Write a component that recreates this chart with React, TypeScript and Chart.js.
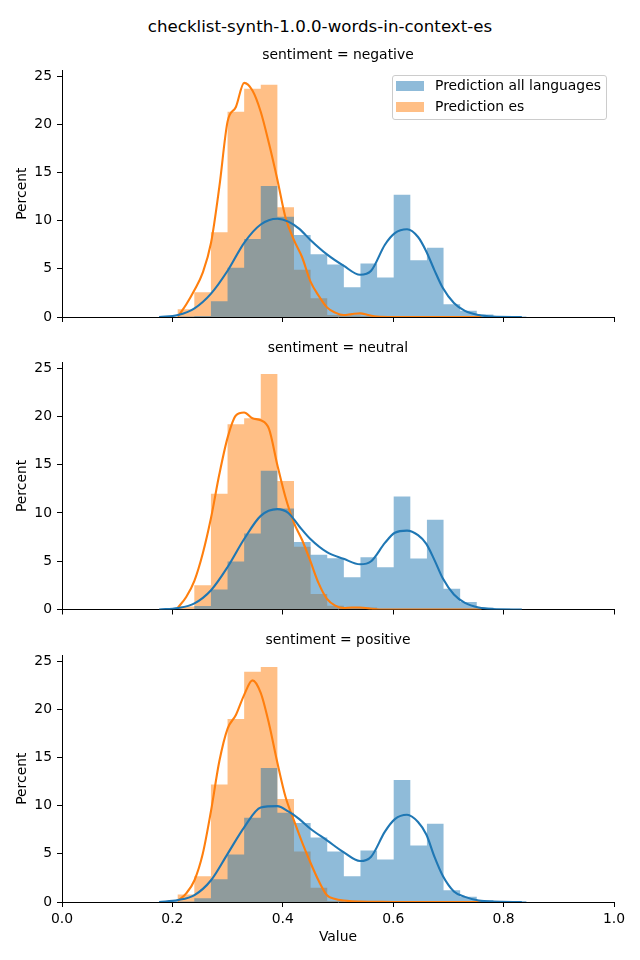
import React, { useEffect, useRef } from "react";
import { Chart, registerables } from "chart.js";

Chart.register(...registerables);

const FONT = "DejaVu Sans";

// Histogram bin edges (shared bins)
const BIN_EDGES = [
  0.1795, 0.2096, 0.2397, 0.2698, 0.2999, 0.33, 0.3601, 0.3902, 0.4203, 0.4504, 0.4805, 0.5106,
  0.5407, 0.5708, 0.6009, 0.631, 0.6611, 0.6912, 0.7213, 0.7514, 0.7815, 0.8116, 0.8417,
];

const SERIES_NAMES = ["Prediction all languages", "Prediction es"];
const PANEL_TITLES = ["sentiment = negative", "sentiment = neutral", "sentiment = positive"];

// Percent per bin — "Prediction all languages"
const ALL_NEGATIVE = [0.02, 0.05, 0.1, 1.64, 5.1, 8.1, 13.6, 10.4, 8.5, 6.5, 5.44, 3.08, 5.54, 4.1, 12.7, 5.88, 7.18, 1.33, 0.65, 0.27, 0.1, 0.05];
const ALL_NEUTRAL = [0.02, 0.05, 0.35, 2.07, 4.98, 7.86, 14.37, 10.46, 7.0, 5.67, 5.3, 3.34, 5.4, 4.37, 11.7, 5.29, 9.3, 2.14, 0.77, 0.2, 0.08, 0.03];
const ALL_POSITIVE = [0.1, 0.05, 0.4, 2.37, 4.94, 8.74, 13.9, 9.26, 8.2, 6.69, 5.25, 2.67, 5.35, 4.42, 12.65, 5.86, 8.13, 1.23, 0.55, 0.2, 0.1, 0.1];

// Percent per bin — "Prediction es"
const ES_NEGATIVE = [0, 0.8, 2.56, 8.8, 21.3, 23.7, 24.1, 11.4, 4.9, 1.95, 0.2, 0.15, 0.1, 0, 0, 0, 0, 0, 0, 0, 0, 0];
const ES_NEUTRAL = [0, 0.3, 2.5, 12.0, 19.2, 19.8, 24.4, 13.3, 6.5, 1.6, 0.4, 0.25, 0.2, 0, 0, 0, 0, 0, 0, 0, 0, 0];
const ES_POSITIVE = [0, 0.79, 2.67, 12.2, 19.0, 23.9, 24.4, 10.7, 5.25, 1.47, 0.1, 0.05, 0, 0, 0, 0, 0, 0, 0, 0, 0, 0];

// Density curves
const KDE_ALL_X = [0.176, 0.21, 0.24, 0.27, 0.3, 0.33, 0.36, 0.39, 0.41, 0.43, 0.45, 0.48, 0.51, 0.54, 0.56, 0.585, 0.603, 0.625, 0.645, 0.66, 0.675, 0.69, 0.71, 0.73, 0.755, 0.78, 0.833];
const KDE_ALL_NEGATIVE = [0, 0.2, 0.9, 2.43, 4.8, 7.7, 9.6, 10.2, 9.9, 9.15, 8.0, 6.5, 5.33, 4.38, 4.8, 7.5, 8.7, 9.1, 8.3, 6.8, 4.82, 3.0, 1.45, 0.63, 0.2, 0.05, 0];
const KDE_ALL_NEUTRAL = [0, 0.15, 0.64, 2.0, 4.4, 7.3, 9.7, 10.4, 10.0, 8.6, 7.3, 5.94, 5.26, 4.68, 5.0, 6.9, 7.95, 8.17, 7.7, 6.8, 5.09, 3.2, 1.55, 0.68, 0.2, 0.05, 0];
const KDE_ALL_POSITIVE = [0, 0.2, 0.72, 2.26, 5.0, 7.75, 9.8, 9.95, 9.4, 8.6, 7.6, 6.4, 5.17, 4.25, 4.7, 7.3, 8.6, 9.05, 8.3, 7.0, 4.66, 2.7, 1.1, 0.53, 0.15, 0.04, 0];

const KDE_ES_X = [0.21, 0.225, 0.24, 0.255, 0.27, 0.285, 0.3, 0.315, 0.33, 0.345, 0.36, 0.375, 0.39, 0.405, 0.42, 0.435, 0.45, 0.465, 0.48, 0.495, 0.51, 0.525, 0.54, 0.555, 0.57, 0.6, 0.65, 0.7, 0.76];
const KDE_ES_NEGATIVE = [0.05, 1.3, 2.8, 4.6, 7.7, 13.5, 20.3, 21.8, 24.3, 23.5, 21.3, 18.0, 14.3, 10.3, 8.0, 6.2, 3.7, 2.2, 1.0, 0.45, 0.2, 0.3, 0.38, 0.2, 0.05, 0, 0, 0, 0];
const KDE_ES_NEUTRAL = [0.2, 1.3, 3.0, 5.8, 9.5, 14.0, 17.8, 20.1, 20.4, 19.8, 19.6, 18.7, 15.0, 11.6, 9.0, 7.2, 5.0, 2.7, 1.1, 0.4, 0.15, 0.2, 0.2, 0.12, 0.03, 0, 0, 0, 0];
const KDE_ES_POSITIVE = [0.1, 0.9, 2.26, 5.0, 9.47, 14.6, 18.0, 19.4, 21.5, 23.0, 21.7, 18.5, 14.5, 10.9, 8.5, 6.2, 4.1, 2.2, 0.7, 0.3, 0.15, 0.08, 0.05, 0.03, 0.02, 0, 0, 0, 0];

const X_TICKS = [0, 0.2, 0.4, 0.6, 0.8, 1.0];
const Y_TICKS = [0, 5, 10, 15, 20, 25];
const Y_MAX = 25.6;

const BLUE = "#1f77b4";
const ORANGE = "#ff7f0e";
const BLUE_FILL = "rgba(31,119,180,0.5)";
const ORANGE_FILL = "rgba(255,127,14,0.5)";

// histogram as a stepped outline: each bin value held from its left edge to its right edge
function histPoints(values: number[]) {
  return BIN_EDGES.map((x, i) => ({ x, y: values[Math.min(i, values.length - 1)] }));
}

type PanelProps = {
  top: number;
  height: number;
  chartTop: number;
  chartBottom: number;
  allVals: number[];
  esVals: number[];
  allKde: number[];
  esKde: number[];
  showX: boolean;
};

function Panel(p: PanelProps) {
  const ref = useRef<HTMLCanvasElement>(null);
  useEffect(() => {
    const canvas = ref.current;
    if (!canvas) return;
    const padTop = p.chartTop - p.top;
    const xAxisH = p.top + p.height - p.chartBottom;
    const tickFont = { family: FONT, size: 13.9 };
    const chart = new Chart(canvas, {
      type: "line",
      data: {
        datasets: [
          {
            label: SERIES_NAMES[0] + " kde",
            data: KDE_ALL_X.map((x, i) => ({ x, y: p.allKde[i] })),
            borderColor: BLUE,
            borderWidth: 2.1,
            pointRadius: 0,
            cubicInterpolationMode: "monotone",
            fill: false,
            clip: 0,
          } as any,
          {
            label: SERIES_NAMES[1] + " kde",
            data: KDE_ES_X.map((x, i) => ({ x, y: p.esKde[i] })),
            borderColor: ORANGE,
            borderWidth: 2.1,
            pointRadius: 0,
            cubicInterpolationMode: "monotone",
            fill: false,
            clip: 0,
          } as any,
          {
            label: SERIES_NAMES[0],
            data: histPoints(p.allVals),
            stepped: "before",
            borderWidth: 0,
            borderColor: "rgba(0,0,0,0)",
            backgroundColor: BLUE_FILL,
            pointRadius: 0,
            fill: "origin",
            clip: 0,
          } as any,
          {
            label: SERIES_NAMES[1],
            data: histPoints(p.esVals),
            stepped: "before",
            borderWidth: 0,
            borderColor: "rgba(0,0,0,0)",
            backgroundColor: ORANGE_FILL,
            pointRadius: 0,
            fill: "origin",
            clip: 0,
          } as any,
        ],
      },
      options: {
        responsive: false,
        animation: false,
        devicePixelRatio: 1,
        layout: { padding: { top: padTop, right: 26, bottom: 0, left: 0 } },
        plugins: {
          legend: { display: false },
          tooltip: { enabled: false },
          title: { display: false },
          filler: { propagate: false },
        },
        scales: {
          x: {
            type: "linear",
            min: 0,
            max: 1,
            offset: false,
            grid: {
              offset: false,
              display: true,
              drawOnChartArea: false,
              drawTicks: true,
              tickLength: 5,
              color: "#000",
              lineWidth: 1,
            },
            border: { display: true, color: "#000", width: 1 },
            ticks: {
              padding: 4,
              color: "#000",
              font: tickFont,
              maxRotation: 0,
              autoSkip: false,
              callback: (v: any) => (p.showX ? Number(v).toFixed(1) : ""),
            },
            afterBuildTicks: (s: any) => {
              s.ticks = X_TICKS.map((value) => ({ value }));
            },
            afterFit: (s: any) => {
              s.height = xAxisH;
            },
            title: {
              display: p.showX,
              text: "Value",
              color: "#000",
              font: tickFont,
              padding: { top: 0, bottom: 14 },
            },
          } as any,
          y: {
            type: "linear",
            min: 0,
            max: Y_MAX,
            grid: {
              display: true,
              drawOnChartArea: false,
              drawTicks: true,
              tickLength: 5,
              color: "#000",
              lineWidth: 1,
            },
            border: { display: true, color: "#000", width: 1 },
            ticks: {
              padding: 5,
              color: "#000",
              font: tickFont,
              includeBounds: false,
              callback: (v: any) => String(Math.round(Number(v))),
            },
            afterBuildTicks: (s: any) => {
              s.ticks = Y_TICKS.map((value) => ({ value }));
            },
            afterFit: (s: any) => {
              s.width = 62;
            },
            title: {
              display: true,
              text: "Percent",
              color: "#000",
              font: tickFont,
              padding: { top: 14, bottom: 0 },
            },
          } as any,
        },
      },
    });
    return () => chart.destroy();
  }, []);
  return (
    <canvas
      ref={ref}
      width={640}
      height={p.height}
      style={{ position: "absolute", left: 0, top: p.top, width: 640, height: p.height }}
    />
  );
}

const textBase: React.CSSProperties = {
  position: "absolute",
  fontFamily: FONT,
  color: "#000",
  whiteSpace: "nowrap",
};

export default function App() {
  return (
    <div
      style={{
        position: "absolute",
        left: 0,
        top: 0,
        width: 640,
        height: 960,
        background: "#fff",
        overflow: "hidden",
      }}
    >
      <Panel top={57} height={290} chartTop={67.3} chartBottom={317} allVals={ALL_NEGATIVE} esVals={ES_NEGATIVE} allKde={KDE_ALL_NEGATIVE} esKde={KDE_ES_NEGATIVE} showX={false} />
      <Panel top={349} height={290} chartTop={359.8} chartBottom={609.5} allVals={ALL_NEUTRAL} esVals={ES_NEUTRAL} allKde={KDE_ALL_NEUTRAL} esKde={KDE_ES_NEUTRAL} showX={false} />
      <Panel top={642} height={318} chartTop={652.3} chartBottom={902} allVals={ALL_POSITIVE} esVals={ES_POSITIVE} allKde={KDE_ALL_POSITIVE} esKde={KDE_ES_POSITIVE} showX={true} />

      <div style={{ ...textBase, left: 0, width: 640, top: 16.5, fontSize: 16.67, lineHeight: "19.4px", textAlign: "center" }}>
        checklist-synth-1.0.0-words-in-context-es
      </div>
      {PANEL_TITLES.map((t, i) => (
        <div
          key={t}
          style={{ ...textBase, left: 62, width: 552, top: [46.1, 338.6, 631.1][i], fontSize: 13.9, lineHeight: "16.2px", textAlign: "center" }}
        >
          {t}
        </div>
      ))}

      <div
        style={{
          position: "absolute",
          left: 391.7,
          top: 75,
          width: 215.6,
          height: 45,
          boxSizing: "border-box",
          border: "1.1px solid rgb(204,204,204)",
          borderRadius: 3,
          background: "rgba(255,255,255,0.8)",
        }}
      />
      <div style={{ position: "absolute", left: 396, top: 81, width: 28, height: 10, background: BLUE_FILL }} />
      <div style={{ position: "absolute", left: 396, top: 101.7, width: 28, height: 10, background: ORANGE_FILL }} />
      <div style={{ ...textBase, left: 435, top: 77.1, fontSize: 13.9, lineHeight: "16.2px" }}>{SERIES_NAMES[0]}</div>
      <div style={{ ...textBase, left: 435, top: 98.1, fontSize: 13.9, lineHeight: "16.2px" }}>{SERIES_NAMES[1]}</div>
    </div>
  );
}
